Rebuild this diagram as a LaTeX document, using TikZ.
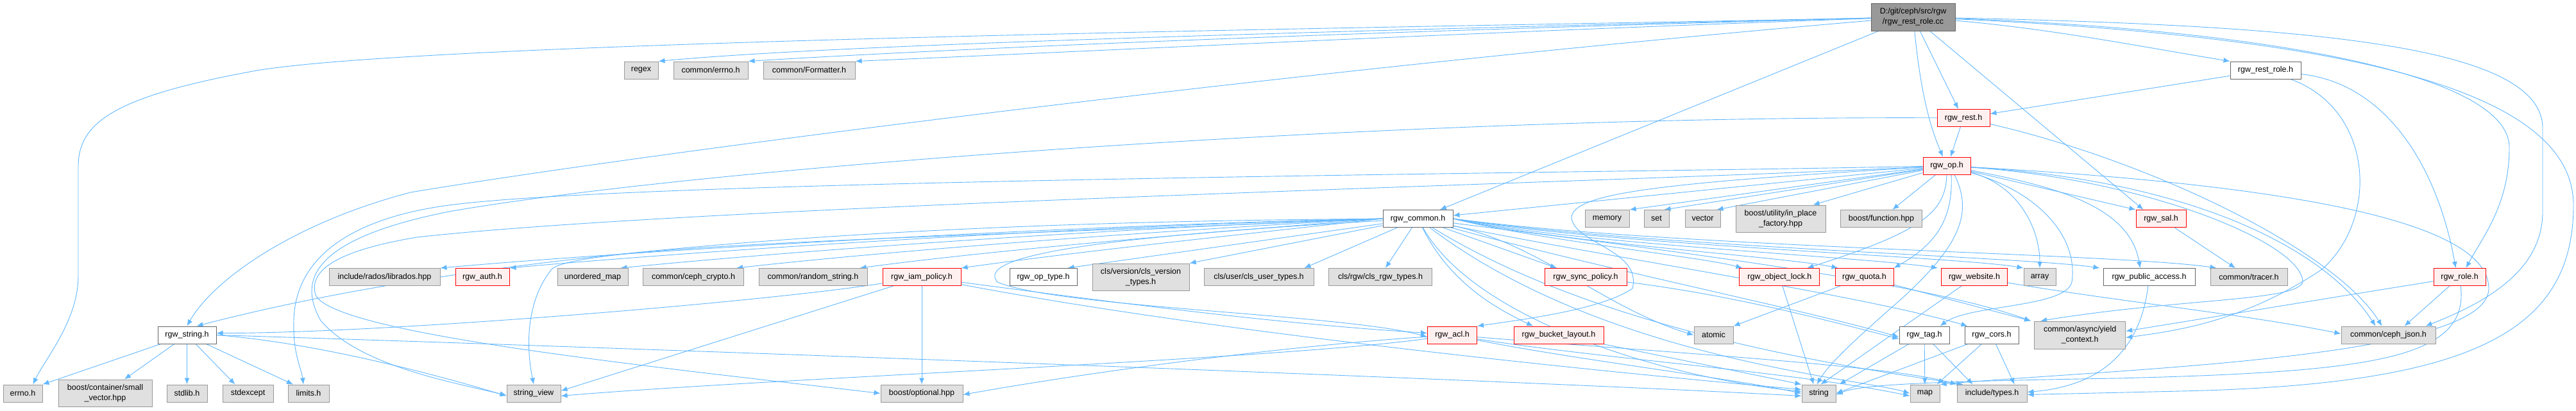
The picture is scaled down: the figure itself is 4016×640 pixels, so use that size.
\documentclass[tikz,border=0pt]{standalone}
\usepackage{fontspec}
\setmainfont{Liberation Sans}
\usetikzlibrary{arrows.meta}
\definecolor{edgec}{HTML}{63B8FF}
\definecolor{extfill}{HTML}{E0E0E0}
\definecolor{extdraw}{HTML}{999999}
\definecolor{docdraw}{HTML}{666666}
\definecolor{redfill}{HTML}{FFF0F0}
\definecolor{reddraw}{HTML}{FF0000}
\definecolor{mainfill}{HTML}{999999}
\pgfdeclarelayer{bg}
\pgfsetlayers{bg,main}
\tikzset{
  box/.style={rectangle, inner sep=0pt, line width=1pt, font=\fontsize{12.5}{16}\selectfont, align=center, minimum height=27pt},
  ext/.style={box, fill=extfill, draw=extdraw},
  doc/.style={box, fill=white, draw=docdraw},
  trunc/.style={box, fill=redfill, draw=reddraw},
  mainnode/.style={box, fill=mainfill, draw=docdraw},
  e/.style={draw=edgec, line width=0.9pt, -{Latex[length=10pt,width=8pt]}},
}
\begin{document}
\begin{tikzpicture}[x=1pt,y=-1pt]
\useasboundingbox (0,0) rectangle (4016,640);
% row 0
\node[mainnode, minimum width=131pt, minimum height=43pt] (main) at (2982.5,26.5) {D:/git/ceph/src/rgw\\/rgw\_rest\_role.cc};
% row 1
\node[ext, minimum width=53pt] (regex) at (999.5,109.5) {regex};
\node[ext, minimum width=116pt] (cerrno) at (1108,109.5) {common/errno.h};
\node[ext, minimum width=143pt] (fmt) at (1261.5,109.5) {common/Formatter.h};
\node[doc, minimum width=110pt] (restrole) at (3532,109.5) {rgw\_rest\_role.h};
\node[trunc, minimum width=82pt] (rest) at (3061,184) {rgw\_rest.h};
\node[trunc, minimum width=74pt] (op) at (3035,258.5) {rgw\_op.h};
% row 2
\node[doc, minimum width=109pt] (common) at (2210.5,341) {rgw\_common.h};
\node[ext, minimum width=69pt] (memory) at (2505.5,341) {memory};
\node[ext, minimum width=39pt] (set) at (2582.5,341) {set};
\node[ext, minimum width=55pt] (vector) at (2654.5,341) {vector};
\node[ext, minimum width=140pt, minimum height=42pt] (inplace) at (2776,341) {boost/utility/in\_place\\\_factory.hpp};
\node[ext, minimum width=127pt] (function) at (2933,341) {boost/function.hpp};
\node[trunc, minimum width=78pt] (sal) at (3369,341) {rgw\_sal.h};
% row 3
\node[ext, minimum width=173pt] (librados) at (599.5,432) {include/rados/librados.hpp};
\node[trunc, minimum width=84pt] (auth) at (752,432) {rgw\_auth.h};
\node[ext, minimum width=110pt] (umap) at (924,432) {unordered\_map};
\node[ext, minimum width=157pt] (crypto) at (1081,432) {common/ceph\_crypto.h};
\node[ext, minimum width=169pt] (randstr) at (1267.5,432) {common/random\_string.h};
\node[trunc, minimum width=122pt] (iam) at (1437,432) {rgw\_iam\_policy.h};
\node[doc, minimum width=105pt] (optype) at (1626.5,432) {rgw\_op\_type.h};
\node[ext, minimum width=151pt, minimum height=42pt] (clsver) at (1778.5,432) {cls/version/cls\_version\\\_types.h};
\node[ext, minimum width=171pt] (clsuser) at (1962.5,432) {cls/user/cls\_user\_types.h};
\node[ext, minimum width=161pt] (clsrgw) at (2152,432) {cls/rgw/cls\_rgw\_types.h};
\node[trunc, minimum width=128pt] (syncpol) at (2472,432) {rgw\_sync\_policy.h};
\node[trunc, minimum width=125pt] (objlock) at (2774.4,432) {rgw\_object\_lock.h};
\node[trunc, minimum width=91pt] (quota) at (2906.5,432) {rgw\_quota.h};
\node[trunc, minimum width=103pt] (website) at (3078,432) {rgw\_website.h};
\node[ext, minimum width=50pt] (array) at (3180,432) {array};
\node[doc, minimum width=143pt] (pubacc) at (3350.5,432) {rgw\_public\_access.h};
\node[ext, minimum width=120pt] (tracer) at (3506,432) {common/tracer.h};
\node[trunc, minimum width=81pt] (role) at (3834.5,432) {rgw\_role.h};
% row 4
\node[doc, minimum width=91pt] (rstring) at (291.5,522.5) {rgw\_string.h};
\node[trunc, minimum width=77pt] (acl) at (2264,522.5) {rgw\_acl.h};
\node[trunc, minimum width=140pt] (blayout) at (2430,522.5) {rgw\_bucket\_layout.h};
\node[ext, minimum width=61pt] (atomic) at (2671.5,522.5) {atomic};
\node[doc, minimum width=78pt] (tag) at (3000,522.5) {rgw\_tag.h};
\node[doc, minimum width=84pt] (cors) at (3105,522.5) {rgw\_cors.h};
\node[ext, minimum width=142pt, minimum height=43pt] (yield) at (3242.6,522.5) {common/async/yield\\\_context.h};
\node[ext, minimum width=147pt] (cjson) at (3723.5,522.5) {common/ceph\_json.h};
% row 5
\node[ext, minimum width=61pt] (errnoh) at (35.5,613.5) {errno.h};
\node[ext, minimum width=146pt, minimum height=42pt] (smallvec) at (164,613) {boost/container/small\\\_vector.hpp};
\node[ext, minimum width=63pt] (stdlib) at (291.5,613.5) {stdlib.h};
\node[ext, minimum width=79pt] (stdexcept) at (386.5,613.5) {stdexcept};
\node[ext, minimum width=64pt] (limits) at (481,613.5) {limits.h};
\node[ext, minimum width=84pt] (strview) at (832,613.5) {string\_view};
\node[ext, minimum width=128pt] (optional) at (1437,613.5) {boost/optional.hpp};
\node[ext, minimum width=53pt] (string) at (2835.5,613.5) {string};
\node[ext, minimum width=46pt] (map) at (3001,613.5) {map};
\node[ext, minimum width=109pt] (types) at (3105.5,613.5) {include/types.h};

\begin{pgfonlayer}{bg}
\fill[white] (0,0) rectangle (4016,640);
% main
\draw[e] (main) .. controls (2400,40) and (700,60) .. (400,110) .. controls (180,150) and (122,190) .. (122,260) -- (122,430) .. controls (122,500) and (70,560) .. ([xshift=16pt]errnoh.north);
\draw[e] (main) .. controls (2000,50) and (1300,70) .. (regex.north east);
\draw[e] (main) .. controls (2100,50) and (1500,75) .. (cerrno.north east);
\draw[e] (main) .. controls (2300,50) and (1700,80) .. (fmt.north east);
\draw[e] (main) .. controls (2000,110) and (1000,240) .. (640,300) .. controls (450,350) and (330,440) .. (rstring.north);
\draw[e] (main) -- (common);
\draw[e] (main) .. controls (2995,150) and (3010,200) .. ([xshift=-6pt]op.north);
\draw[e] (main) -- ([xshift=-8pt]rest.north);
\draw[e] (main) .. controls (3200,45) and (3350,75) .. (restrole.north west);
\draw[e] (main) -- ([xshift=12pt]sal.north west);
\draw[e] (main) .. controls (3500,45) and (3912,110) .. (3912,230) .. controls (3912,320) and (3870,370) .. ([xshift=10pt]role.north);
\draw[e] (main) .. controls (3600,40) and (3964,70) .. (3964,200) -- (3964,330) .. controls (3964,420) and (3880,470) .. ([xshift=58pt]cjson.north);
\draw[e] (main) .. controls (3700,60) and (4012,150) .. (4012,320) .. controls (4012,520) and (3850,600) .. (3400,610) -- ([yshift=-2pt]types.east);
% rgw_rest_role.h
\draw[e] (restrole) -- (rest);
\draw[e] (restrole) .. controls (3720,130) and (3800,260) .. ([xshift=-6pt]role.north);
\draw[e] (restrole) .. controls (3700,170) and (3710,340) .. (3620,420) .. controls (3500,500) and (3400,515) .. ([yshift=-4pt]yield.east);
% rgw_rest.h
\draw[e] (rest) -- ([xshift=6pt]op.north);
\draw[e] (rest) .. controls (3350,250) and (3640,390) .. ([xshift=-10pt]cjson.north);
\draw[e] (rest) .. controls (2200,180) and (1100,260) .. (700,330) .. controls (500,370) and (460,430) .. (500,500) .. controls (560,570) and (700,595) .. ([yshift=-3pt]strview.west);
% rgw_op.h
\draw[e] (op) -- ([yshift=5pt]common.east);
\draw[e] (op) -- (memory.north east);
\draw[e] (op) -- ([xshift=-8pt]set.north east);
\draw[e] (op) -- ([xshift=-6pt]vector.north east);
\draw[e] (op) -- ([xshift=-20pt]inplace.north east);
\draw[e] (op) -- (function);
\draw[e] (op.south) .. controls (3033,330) and (3000,360) .. ([xshift=-20pt]objlock.north east);
\draw[e] ([xshift=7pt]op.south) .. controls (3045,340) and (3020,380) .. (quota.north east);
\draw[e] ([xshift=12pt]op.south) .. controls (3075,330) and (3060,380) .. (2960,470) .. controls (2880,540) and (2850,570) .. ([xshift=-3pt]string.north);
\draw[e] (op) .. controls (3150,290) and (3180,360) .. (array.north);
\draw[e] (op) .. controls (3180,300) and (3240,370) .. (3230,440) .. controls (3220,480) and (3070,475) .. ([xshift=-15pt]tag.north east);
\draw[e] (op) .. controls (3200,290) and (3320,320) .. ([xshift=-14pt]pubacc.north);
\draw[e] (op) -- (sal.north west);
\draw[e] (op) .. controls (3400,280) and (3620,380) .. ([xshift=-20pt]cjson.north);
\draw[e] (op) .. controls (3350,280) and (3590,380) .. (3590,440) .. controls (3580,470) and (3400,465) .. ([xshift=10pt]yield.north west);
\draw[e] (op) .. controls (3600,290) and (3880,350) .. (3880,450) .. controls (3880,560) and (3300,575) .. (map.north east);
\draw[e] (op) .. controls (2500,270) and (1000,280) .. (700,320) .. controls (550,340) and (460,400) .. (458,500) .. controls (456,550) and (470,575) .. ([xshift=-8pt]limits.north);
\draw[e] (op) .. controls (2500,285) and (1100,320) .. (650,370) .. controls (530,390) and (480,420) .. (492,460) .. controls (520,520) and (1000,570) .. (optional.west);
\draw[e] (op) .. controls (2600,285) and (2450,300) .. (2450,340) .. controls (2455,380) and (2560,390) .. (2545,450) .. controls (2500,480) and (2400,495) .. (acl.north east);
% rgw_common.h
\draw[e] (common.west) .. controls (1700,350) and (1000,390) .. (librados.north east);
\draw[e] (common.west) .. controls (1700,352) and (1100,390) .. (auth.north east);
\draw[e] (common.west) .. controls (1750,355) and (1250,390) .. ([xshift=-12pt]umap.north east);
\draw[e] (common.west) .. controls (1800,360) and (1400,390) .. ([xshift=-12pt]crypto.north east);
\draw[e] (common.west) .. controls (1850,365) and (1550,390) .. ([xshift=-12pt]randstr.north east);
\draw[e] (common.west) .. controls (1900,370) and (1700,390) .. (iam.north east);
\draw[e] (common.west) .. controls (1500,370) and (900,380) .. (860,420) .. controls (820,470) and (820,540) .. (strview.north);
\draw[e] (common) -- ([xshift=-15pt]optype.north east);
\draw[e] (common) -- (clsver.north east);
\draw[e] (common) -- ([xshift=-15pt]clsuser.north east);
\draw[e] (common) -- ([xshift=8pt]clsrgw.north);
\draw[e] (common) -- ([xshift=-45pt]syncpol.north);
\draw[e] (common) .. controls (2260,440) and (2330,480) .. ([xshift=-40pt]blayout.north);
\draw[e] (common) .. controls (1700,370) and (1520,400) .. (1555,440) .. controls (1650,480) and (2100,490) .. ([yshift=-3pt]acl.west);
\draw[e] (common.east) .. controls (2400,375) and (2650,400) .. ([xshift=5pt]objlock.north west);
\draw[e] (common.east) .. controls (2420,378) and (2780,400) .. ([xshift=5pt]quota.north west);
\draw[e] (common.east) .. controls (2450,380) and (2900,400) .. ([xshift=-5pt]website.north west);
\draw[e] (common.east) .. controls (2500,382) and (3050,400) .. (array.north west);
\draw[e] (common.east) .. controls (2550,384) and (3150,400) .. ([xshift=-5pt]pubacc.north west);
\draw[e] (common.east) .. controls (2600,386) and (3300,395) .. ([xshift=10pt]tracer.north west);
\draw[e] (common) .. controls (2400,380) and (2500,480) .. (atomic.west);
\draw[e] (common) .. controls (2500,420) and (2800,480) .. ([yshift=-3pt]tag.west);
\draw[e] (common) .. controls (2500,400) and (2900,460) .. ([xshift=5pt]cors.north west);
\draw[e] (common) .. controls (2600,390) and (3000,440) .. ([xshift=-5pt]yield.north west);
\draw[e] (common) .. controls (1500,345) and (800,380) .. ([xshift=15pt]rstring.north);
\draw[e] (common) .. controls (2300,500) and (2600,590) .. ([yshift=3pt]string.west);
\draw[e] (common) .. controls (2500,560) and (2900,590) .. (map.west);
\draw[e] (common) .. controls (2500,520) and (2900,575) .. ([xshift=10pt]types.north west);
% rgw_sync_policy.h
\draw[e] (syncpol) .. controls (2700,460) and (2850,500) .. ([yshift=-6pt]tag.west);
% rgw_string.h
\draw[e] (rstring) -- (errnoh.north east);
\draw[e] (rstring) -- ([xshift=30pt]smallvec.north);
\draw[e] (rstring) -- (stdlib);
\draw[e] (rstring) -- ([xshift=-20pt]stdexcept.north);
\draw[e] (rstring) -- ([xshift=-24pt]limits.north);
\draw[e] (rstring.east) .. controls (500,535) and (700,590) .. ([yshift=-4pt]strview.west);
\draw[e] (rstring.east) .. controls (900,540) and (2300,590) .. ([yshift=-4pt]string.west);
% rgw_iam_policy.h
\draw[e] (iam) .. controls (1200,470) and (600,520) .. ([yshift=3pt]rstring.east);
\draw[e] (iam) -- ([yshift=4pt]strview.east);
\draw[e] (iam) -- (optional);
\draw[e] (iam) .. controls (1800,480) and (2000,505) .. ([yshift=3pt]acl.west);
\draw[e] (iam) .. controls (1900,520) and (2500,580) .. ([yshift=6pt]string.west);
% rgw_acl.h
\draw[e] (acl) .. controls (2000,540) and (1700,580) .. ([yshift=-2pt]optional.east);
\draw[e] (acl) .. controls (2000,560) and (1200,590) .. ([yshift=-4pt]strview.east);
\draw[e] (acl) .. controls (2450,560) and (2700,590) .. (string.west);
\draw[e] (acl) .. controls (2500,560) and (2800,580) .. ([yshift=-4pt]map.west);
\draw[e] (acl) .. controls (2600,550) and (2950,570) .. (types.north west);
% others
\draw[e] (blayout) -- (string.north west);
\draw[e] (objlock) -- ([xshift=-8pt]string.north);
\draw[e] (quota) -- (atomic.north east);
\draw[e] (quota) -- ([xshift=-5pt]yield.north west);
\draw[e] (website) -- ([xshift=3pt]string.north);
\draw[e] (website) .. controls (3300,470) and (3500,490) .. ([yshift=2pt]cjson.west);
\draw[e] (tag) -- ([xshift=5pt]string.north east);
\draw[e] (tag) -- (map);
\draw[e] (tag) -- ([xshift=-30pt]types.north);
\draw[e] (cors) -- (string.east);
\draw[e] (cors) -- ([xshift=-5pt]map.north east);
\draw[e] (cors) -- ([xshift=-20pt]types.north east);
\draw[e] (pubacc) .. controls (3340,520) and (3300,600) .. ([yshift=2pt]types.east);
\draw[e] (sal) -- (tracer);
\draw[e] (role) .. controls (3600,470) .. ([yshift=6pt]yield.east);
\draw[e] (role) -- ([xshift=25pt]cjson.north);
\draw[e] (role) .. controls (3850,560) and (3700,580) .. (3300,590) .. controls (3000,595) and (2900,600) .. ([yshift=-2pt]string.east);
\end{pgfonlayer}
\end{tikzpicture}
\end{document}
